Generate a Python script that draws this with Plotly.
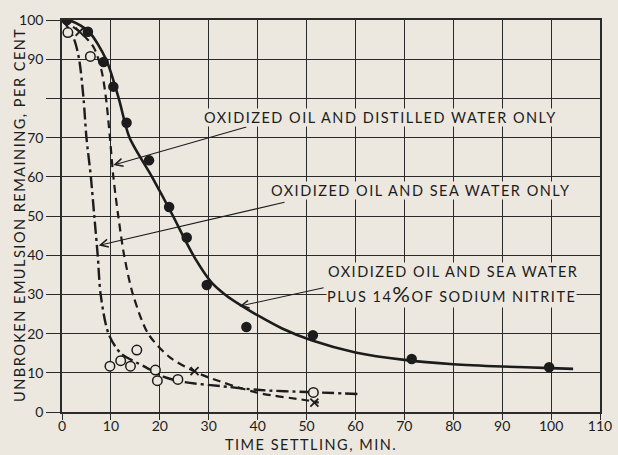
import plotly.graph_objects as go

# ---- data ----
# Oxidized oil and sea water plus 14% sodium nitrite (filled circles, solid curve)
nitrite_pts_x = [1, 5.3, 8.5, 10.5, 13.2, 17.8, 21.9, 25.5, 29.6, 37.7, 51.3, 71.5, 99.6]
nitrite_pts_y = [100, 97, 89.3, 83, 73.8, 64.2, 52.3, 44.5, 32.4, 21.7, 19.6, 13.5, 11.4]
nitrite_curve_x = [0, 2, 5.5, 9, 11.6, 13.8, 18.4, 22.7, 25, 27.3, 30.6, 33.5, 36.6, 40.5, 45, 51, 60, 70, 80, 90, 100, 104.5]
nitrite_curve_y = [100, 99.7, 97, 90, 80, 70, 60, 50, 44.3, 39, 33, 29.8, 27.2, 24.3, 21.3, 18.3, 15.2, 13.3, 12.2, 11.6, 11.2, 11]

# Oxidized oil and sea water only (open circles, dash-dot curve)
sea_pts_x = [1.2, 5.8, 9.8, 12.0, 14.0, 15.3, 19.1, 19.5, 23.7, 51.4]
sea_pts_y = [96.8, 90.7, 11.7, 13.1, 11.7, 15.8, 10.7, 8.0, 8.3, 5.0]
sea_curve_x = [0, 1, 2.5, 3.5, 4.4, 5.0, 5.9, 6.6, 7.3, 7.9, 9.5, 12, 17, 20.7, 24.7, 34, 40.5, 50, 60.5]
sea_curve_y = [100, 98.5, 95, 90, 80, 70, 60, 50, 40, 30, 20, 15, 11.5, 9, 7.7, 6.4, 5.6, 5.1, 4.6]

# Oxidized oil and distilled water only (crosses, dashed curve)
dist_pts_x = [3.6, 27.1, 51.6]
dist_pts_y = [97, 10.4, 2.4]
dist_curve_x = [0, 3.6, 6.5, 8.1, 9.0, 9.8, 10.5, 11.5, 12.7, 14.5, 17.6, 22, 27, 30, 40, 50, 52.5]
dist_curve_y = [100, 97, 93, 87, 80, 70, 60, 50, 40, 30, 20, 14, 10.4, 8.8, 4.9, 3.0, 2.4]

x_ticks = [0, 10, 20, 30, 40, 50, 60, 70, 80, 90, 100, 110]
y_ticks = [0, 10, 20, 30, 40, 50, 60, 70, 80, 90, 100]
y_tick_labels = ["0", "10", "20", "30", "40", "50", "60", "70", "", "90", "100"]

X_MAX = 110
Y_MAX = 100

BG = "#ece8df"
INK = "#1c1c1c"
GRID = "#2a2a2a"
FONT = "Lato"
SP = "letter-spacing:1.5px"

fig = go.Figure()

fig.add_trace(go.Scatter(x=nitrite_curve_x, y=nitrite_curve_y, mode="lines",
                         line=dict(color=INK, width=2.6, shape="spline", smoothing=0.8),
                         showlegend=False, hoverinfo="skip"))
fig.add_trace(go.Scatter(x=dist_curve_x, y=dist_curve_y, mode="lines",
                         line=dict(color=INK, width=2.2, dash="8px,5px", shape="spline", smoothing=0.8),
                         showlegend=False, hoverinfo="skip"))
fig.add_trace(go.Scatter(x=sea_curve_x, y=sea_curve_y, mode="lines",
                         line=dict(color=INK, width=2.4, dash="12px,4px,3px,4px", shape="spline", smoothing=0.8),
                         showlegend=False, hoverinfo="skip"))

fig.add_trace(go.Scatter(x=nitrite_pts_x, y=nitrite_pts_y, mode="markers",
                         marker=dict(symbol="circle", size=10.5, color=INK),
                         showlegend=False))
fig.add_trace(go.Scatter(x=sea_pts_x, y=sea_pts_y, mode="markers",
                         marker=dict(symbol="circle", size=9.5, color=BG, line=dict(color=INK, width=1.5)),
                         showlegend=False))
fig.add_trace(go.Scatter(x=dist_pts_x, y=dist_pts_y, mode="markers",
                         marker=dict(symbol="x-thin", size=8, color=INK, line=dict(color=INK, width=1.8)),
                         showlegend=False))

txt = dict(size=14.5, color=INK, family=FONT)

def label(x, y, text):
    fig.add_annotation(x=x, y=y, xref="x", yref="y",
                       text="<span style='%s'>%s</span>" % (SP, text), showarrow=False,
                       font=txt, bgcolor=BG, borderpad=0)

def arrow(x_tip, y_tip, x_tail, y_tail):
    fig.add_annotation(x=x_tip, y=y_tip, ax=x_tail, ay=y_tail, xref="x", yref="y",
                       axref="x", ayref="y", text="", showarrow=True,
                       arrowhead=5, arrowsize=1.4, arrowwidth=1.1, arrowcolor=INK)

arrow(10.5, 63, 38.0, 72.8)
arrow(7.5, 42.5, 45.8, 53.6)
arrow(36.3, 27.0, 53.8, 31.8)

label(65.1, 75.2, "OXIDIZED OIL AND DISTILLED WATER ONLY")
label(73.3, 56.6, "OXIDIZED OIL AND SEA WATER ONLY")
label(80.0, 35.8, "OXIDIZED OIL AND SEA WATER")
label(79.6, 30.3, "PLUS 14<span style='font-size:22px'>%</span>OF SODIUM NITRITE")

fig.add_annotation(x=(18 - 62) / 550, y=(412 - 215) / 392, xref="paper", yref="paper",
                   text="<span style='%s'>UNBROKEN EMULSION REMAINING, PER CENT</span>" % SP,
                   textangle=-90, showarrow=False, font=txt, xanchor="center", yanchor="middle")
fig.add_annotation(x=(317 - 62) / 550, y=(412 - 444) / 392, xref="paper", yref="paper",
                   text="<span style='%s'>TIME SETTLING, MIN.</span>" % SP,
                   showarrow=False, font=txt, xanchor="center", yanchor="middle")

axis_common = dict(showgrid=True, gridcolor=GRID, gridwidth=1.4,
                   showline=True, linecolor=GRID, linewidth=1.5, mirror=True,
                   zeroline=False, ticks="outside", tickcolor=GRID, tickwidth=1.4,
                   ticklabeloverflow="allow",
                   tickfont=dict(size=14, color=INK, family=FONT))

fig.update_xaxes(range=[0, X_MAX], tickvals=x_ticks, ticklen=6, ticklabelstandoff=-6, **axis_common)
fig.update_yaxes(range=[0, Y_MAX], tickvals=y_ticks, ticktext=y_tick_labels, ticklen=14, **axis_common)

fig.update_layout(width=618, height=455,
                  margin=dict(l=62, r=6, t=20, b=43),
                  paper_bgcolor=BG, plot_bgcolor=BG,
                  font=dict(family=FONT, color=INK))

fig.write_html("out.html")
